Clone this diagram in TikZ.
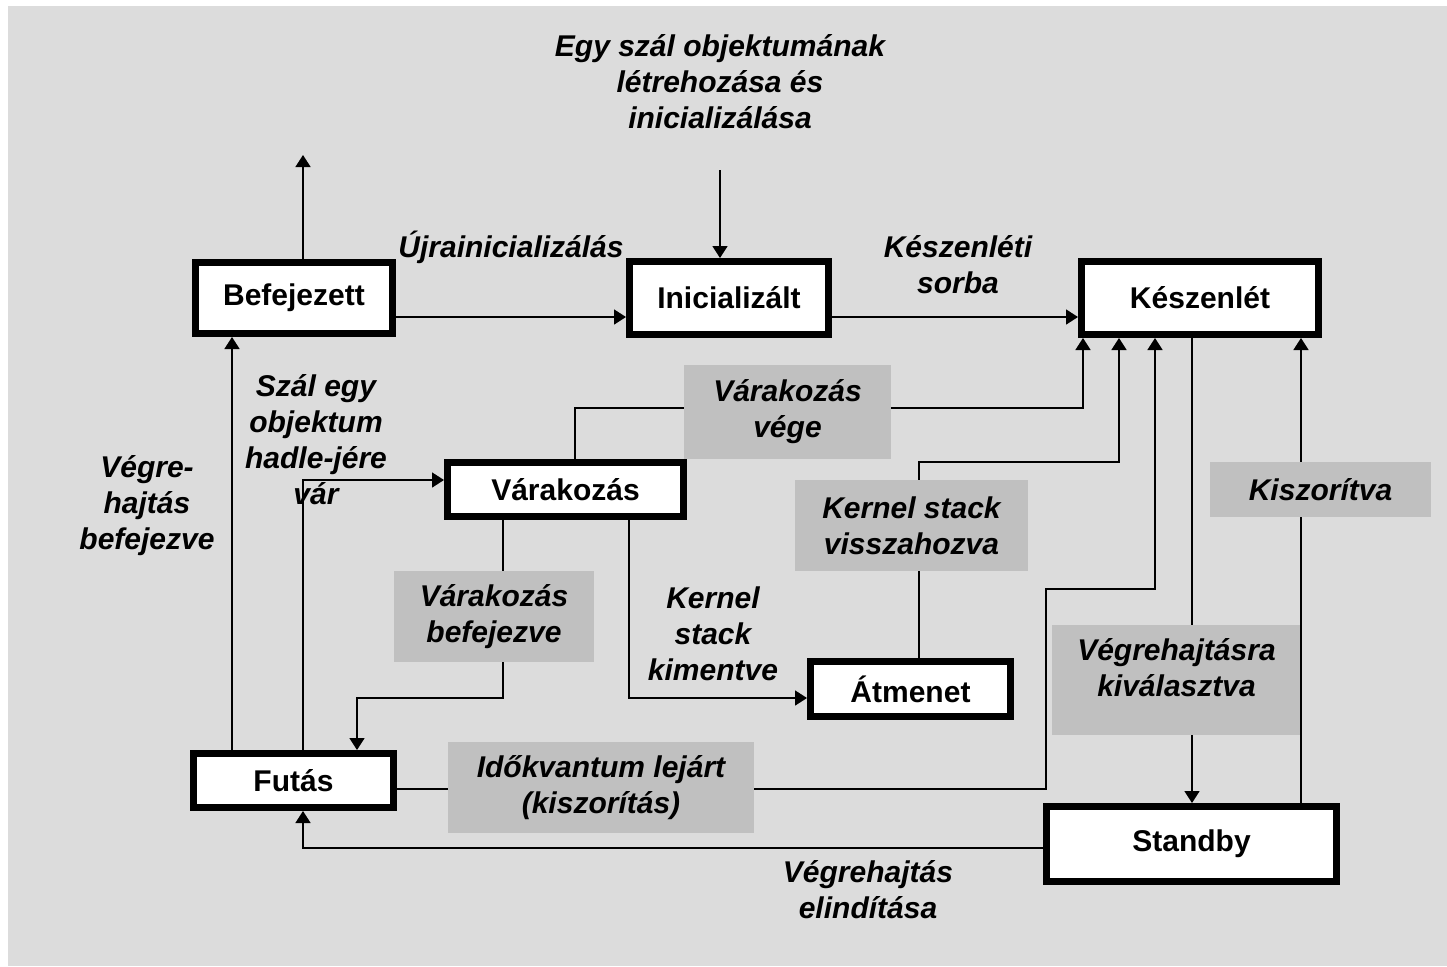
\documentclass[tikz,border=0pt]{standalone}
\usepackage{fontspec}
\setmainfont{Liberation Sans}
\usetikzlibrary{arrows.meta}
\definecolor{bggray}{HTML}{DCDCDC}
\definecolor{lblgray}{HTML}{C0C0C0}
\begin{document}
\begin{tikzpicture}[x=0.5pt,y=-0.5pt,
  every node/.style={font=\fontsize{15}{18}\selectfont\bfseries,align=center,inner sep=0pt},
  st/.style={draw,line width=3.5pt,fill=white},
  txt/.style={font=\fontsize{15}{18}\selectfont\bfseries\itshape},
  lbl/.style={txt,fill=lblgray},
  ln/.style={line width=0.8pt},
  arr/.style={ln,-{Triangle[length=6pt,width=7.5pt]}}]
\useasboundingbox (0,0) rectangle (1447,966);
\fill[bggray] (8,6) rectangle (1447,966);
% states
\node[st,minimum width=98.5pt,minimum height=35.5pt] (bef) at (294,298) {Befejezett};
\node[st,minimum width=99.5pt,minimum height=36.5pt] (ini) at (729,298) {Inicializált};
\node[st,minimum width=118.5pt,minimum height=36.5pt] (kesz) at (1200,298) {Készenlét};
\node[st,minimum width=118pt,minimum height=27pt] (var) at (565.5,489.5) {Várakozás};
\node[st,minimum width=100pt,minimum height=27.5pt] (atm) at (910.5,689) {Átmenet};
\node[st,minimum width=100pt,minimum height=27pt] (fut) at (293.5,780.5) {Futás};
\node[st,minimum width=145pt,minimum height=37.5pt] (stb) at (1191.5,844) {Standby};
% gray labels
\node[lbl,minimum width=103.5pt,minimum height=47pt] (vege) at (787.5,412) {Várakozás\\vége};
\node[lbl,minimum width=116.5pt,minimum height=45.5pt] (vissz) at (911.5,525.5) {Kernel stack\\visszahozva};
\node[lbl,minimum width=100pt,minimum height=45.5pt] (befv) at (494,616.5) {Várakozás\\befejezve};
\node[lbl,minimum width=153pt,minimum height=45.5pt] (ido) at (601,787.5) {Időkvantum lejárt\\(kiszorítás)};
\node[lbl,minimum width=124.5pt,minimum height=55pt] (kiv) at (1176.5,680) {};
\node[txt] (kivtxt) at (1176.5,668) {Végrehajtásra\\kiválasztva};
\node[lbl,minimum width=110.5pt,minimum height=27.5pt] (kisz) at (1320.5,489.5) {Kiszorítva};
% free labels
\node[txt] (birth) at (720,82) {Egy szál objektumának\\létrehozása és\\inicializálása};
\node[txt] (reinit) at (511,247) {Újrainicializálás};
\node[txt] (queue) at (958,265) {Készenléti\\sorba};
\node[txt] (wait) at (316,440) {Szál egy\\objektum\\hadle-jére\\vár};
\node[txt] (done) at (147,506) {Végre-\\hajtás\\befejezve};
\node[txt] (saved) at (713,634) {Kernel\\stack\\kimentve};
\node[txt] (launch) at (868,890) {Végrehajtás\\elindítása};
\coordinate (start) at (720,170);
\coordinate (exit) at (303,155);
% connectors
\draw[arr] (start) -- (start |- ini.north);
\draw[arr] (exit |- bef.north) -- (exit);
\draw[arr] (bef.east |- 0,317) -- (ini.west |- 0,317);
\draw[arr] (ini.east |- 0,317) -- (kesz.west |- 0,317);
\draw[ln] (kesz.south -| 1192,0) -- (kiv.north -| 1192,0);
\draw[arr] (kiv.south -| 1192,0) -- (stb.north -| 1192,0);
\draw[ln] (stb.north -| 1301,0) -- (kisz.south -| 1301,0);
\draw[arr] (kisz.north -| 1301,0) -- (kesz.south -| 1301,0);
\draw[arr] (stb.west |- 0,848) -| (fut.south -| 303,0);
\draw[arr] (fut.north -| 232,0) -- (bef.south -| 232,0);
\draw[arr] (fut.north -| 303,0) |- (var.west |- 0,480);
\draw[ln] (var.north -| 575,0) |- (vege.west |- 0,408);
\draw[arr] (vege.east |- 0,408) -| (kesz.south -| 1083,0);
\draw[ln] (var.south -| 503,0) -- (befv.north -| 503,0);
\draw[arr] (befv.south -| 503,0) |- (357,698) -- (fut.north -| 357,0);
\draw[arr] (var.south -| 629,0) |- (atm.west |- 0,698);
\draw[ln] (atm.north -| 919,0) -- (vissz.south -| 919,0);
\draw[arr] (vissz.north -| 919,0) |- (1119,462) -- (kesz.south -| 1119,0);
\draw[ln] (fut.east |- 0,789) -- (ido.west |- 0,789);
\draw[arr] (ido.east |- 0,789) -| (1046,589) -| (kesz.south -| 1155,0);
\end{tikzpicture}
\end{document}
